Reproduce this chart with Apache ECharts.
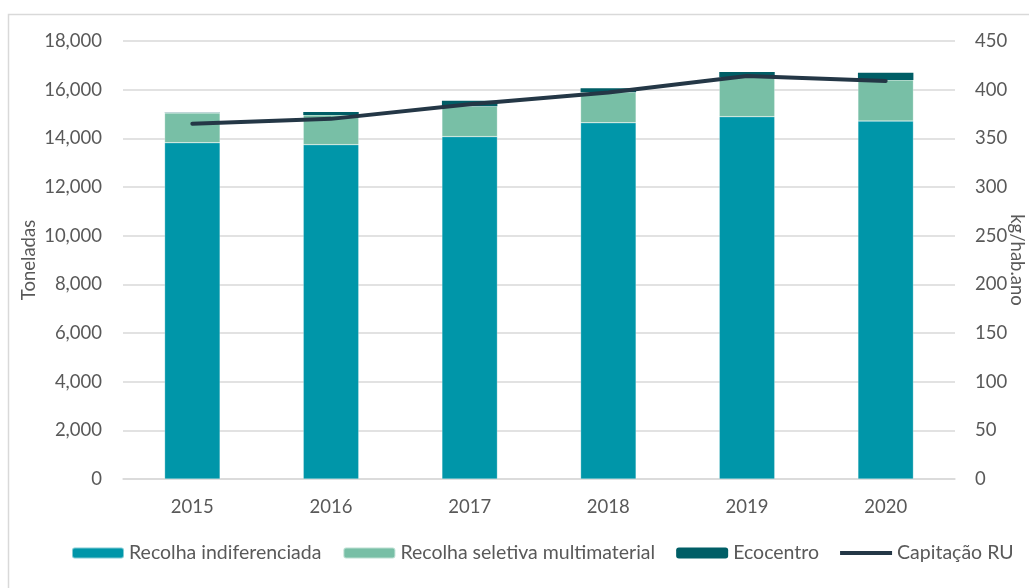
<!DOCTYPE html>
<html>
<head>
<meta charset="utf-8">
<script src="https://cdn.jsdelivr.net/npm/echarts@6/dist/echarts.min.js"></script>
<style>
  html, body { margin: 0; padding: 0; background: #fff; }
  #eChart { width: 1029px; height: 588px; }
</style>
</head>
<body>
<div id="eChart"></div>
<script>
var years = ['2015', '2016', '2017', '2018', '2019', '2020'];
var indiferenciada = [13820, 13740, 14070, 14640, 14890, 14710];
var seletiva = [1220, 1220, 1250, 1250, 1620, 1690];
var ecocentro = [10, 120, 220, 170, 220, 300];
var capitacao = [365, 370, 385, 397, 414, 409];

var font = 'Lato';
var textColor = '#595959';

var chart = echarts.init(document.getElementById('eChart'));

var option = {
  animation: false,
  textStyle: { fontFamily: font },
  graphic: [{
    type: 'rect',
    shape: { x: 8.5, y: 14.5, width: 1200, height: 800 },
    style: { fill: 'none', stroke: '#d9d9d9', lineWidth: 1.5 },
    silent: true
  }],
  legend: {
    left: 71,
    top: 543,
    padding: 0,
    itemWidth: 52,
    itemHeight: 11,
    itemGap: 21,
    textStyle: { color: textColor, fontSize: 19.5, fontFamily: font },
    data: [
      'Recolha indiferenciada',
      'Recolha seletiva multimaterial',
      'Ecocentro',
      { name: 'Capitação RU', icon: 'path://M0,-2L55,-2L55,2L0,2Z' }
    ]
  },
  grid: {
    left: 123,
    right: 74,
    top: 41,
    bottom: 109,
    outerBoundsMode: 'none'
  },
  xAxis: {
    type: 'category',
    data: years,
    axisLine: { lineStyle: { color: '#d9d9d9', width: 1.5 } },
    axisTick: { show: false },
    axisLabel: { color: textColor, fontSize: 18.5, margin: 19 }
  },
  yAxis: [
    {
      type: 'value',
      min: 0,
      max: 18000,
      interval: 2000,
      name: 'Toneladas',
      nameLocation: 'middle',
      nameMoveOverlap: false,
      nameGap: 84,
      nameTextStyle: { color: textColor, fontSize: 18.5 },
      axisLine: { show: false },
      axisTick: { show: false },
      axisLabel: {
        color: textColor,
        fontSize: 18.5,
        margin: 21,
        formatter: function (v) { return v.toLocaleString('en-US'); }
      },
      splitLine: { lineStyle: { color: '#d9d9d9', width: 1.5 } }
    },
    {
      type: 'value',
      min: 0,
      max: 450,
      interval: 50,
      name: 'kg/hab.ano',
      nameLocation: 'middle',
      nameMoveOverlap: false,
      nameRotate: -90,
      nameGap: 52,
      nameTextStyle: { color: textColor, fontSize: 18.5 },
      axisLine: { show: false },
      axisTick: { show: false },
      axisLabel: { color: textColor, fontSize: 18.5, margin: 20 },
      splitLine: { show: false }
    }
  ],
  series: [
    {
      name: 'Recolha indiferenciada',
      type: 'bar',
      stack: 'total',
      barWidth: '40%',
      itemStyle: { color: '#0096a9', borderColor: 'rgba(255,255,255,0.5)', borderWidth: 0.5 },
      data: indiferenciada
    },
    {
      name: 'Recolha seletiva multimaterial',
      type: 'bar',
      stack: 'total',
      itemStyle: { color: '#78bfa6', borderColor: 'rgba(255,255,255,0.5)', borderWidth: 0.5 },
      data: seletiva
    },
    {
      name: 'Ecocentro',
      type: 'bar',
      stack: 'total',
      itemStyle: { color: '#005e66' },
      data: ecocentro
    },
    {
      name: 'Capitação RU',
      type: 'line',
      yAxisIndex: 1,
      symbol: 'none',
      lineStyle: { color: '#243746', width: 4, cap: 'round', join: 'round' },
      itemStyle: { color: '#243746' },
      data: capitacao
    }
  ]
};

chart.setOption(option);
</script>
</body>
</html>
